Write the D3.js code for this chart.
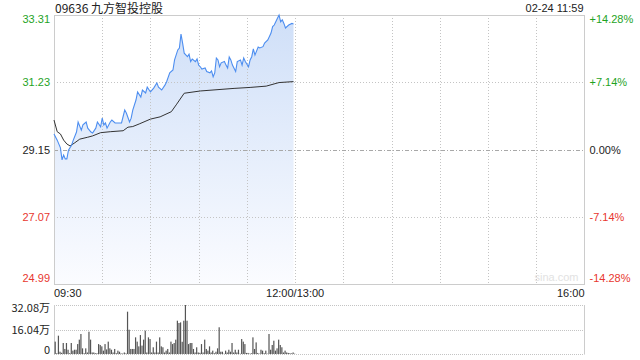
<!DOCTYPE html>
<html>
<head>
  <meta charset="utf-8">
  <title>09636 分时</title>
  <script src="https://d3js.org/d3.v7.min.js"></script>
  <style>
    body { margin: 0; background: #fff; }
    text { font-family: "Liberation Sans", Arial, sans-serif; font-size: 11px; }
    .title { font-family: "Noto Sans CJK SC", "Liberation Sans", sans-serif; font-size: 12px; fill: #222; }
    .grid line { stroke: #c4c4c4; stroke-dasharray: 1,2; }
  </style>
</head>
<body>
<script>
// 기준가(전일 종가)와 가격 눈금
var prevClose = 29.15;
var priceTicks = [33.31, 31.23, 29.15, 27.07, 24.99];
var pctLabels = ['+14.28%', '+7.14%', '0.00%', '-7.14%', '-14.28%'];
var volTicks = [32.08, 16.04, 0];
var timeTicks = [0, 150, 330];
var timeLabels = ['09:30', '12:00/13:00', '16:00'];

// 가격 (09:30부터 경과 분, 가격)
var priceMin = [0, 2, 4, 5, 6, 7, 8, 9, 11, 12, 14, 15, 17, 18, 20, 21, 23, 24, 26, 27,
  29, 30, 31, 32, 33, 35, 36, 38, 40, 42, 44, 45, 47, 48, 49, 51, 52, 54, 55, 57,
  58, 60, 62, 64, 65, 67, 69, 70, 72, 74, 75, 77, 78, 79, 80, 81, 83, 84, 85, 86,
  88, 89, 90, 91, 92, 94, 95, 97, 98, 99, 100, 101, 102, 103, 104, 106, 107, 108, 109, 110,
  111, 113, 114, 116, 117, 118, 119, 121, 122, 123, 124, 125, 127, 128, 130, 131, 133, 135, 136, 137,
  139, 140, 141, 142, 143, 144, 146, 148, 149];
var priceVal = [29.63, 29.44, 29.20, 28.83, 28.98, 28.86, 28.86, 29.13, 29.29, 29.44, 29.69, 30.00, 29.75, 29.91, 30.00, 29.81, 29.69, 29.66, 29.81, 30.00,
  29.85, 30.12, 29.91, 29.97, 29.81, 30.00, 30.06, 29.97, 29.97, 29.97, 30.37, 30.28, 30.00, 30.12, 30.37, 30.68, 30.93, 30.77, 30.99, 30.90,
  31.08, 30.93, 31.05, 31.21, 31.08, 30.99, 31.14, 31.24, 31.52, 31.61, 31.92, 32.23, 32.29, 32.72, 32.44, 32.13, 32.02, 32.10, 31.87, 31.95,
  31.87, 31.95, 31.76, 31.71, 31.64, 31.67, 31.56, 31.52, 31.58, 31.40, 31.52, 31.98, 31.92, 31.71, 31.83, 31.87, 31.76, 31.67, 32.01, 31.92,
  31.76, 31.56, 31.87, 31.92, 31.76, 31.98, 31.87, 31.71, 31.92, 32.02, 32.26, 32.07, 32.32, 32.29, 32.33, 32.44, 32.54, 32.75, 32.95, 33.00,
  33.21, 33.31, 33.10, 33.16, 33.05, 32.91, 33.00, 33.05, 33.03];

// 평균가
var avgMin = [0, 2, 4, 6, 8, 10, 13, 16, 21, 24, 29, 35, 43, 46, 49, 53, 60, 66, 73, 76, 81, 91, 112, 122, 132, 140, 149];
var avgVal = [30.06, 29.70, 29.63, 29.44, 29.32, 29.26, 29.36, 29.47, 29.53, 29.57, 29.67, 29.70, 29.73, 29.84, 29.86, 29.94, 30.09, 30.16, 30.32, 30.53, 30.89, 30.96, 31.04, 31.07, 31.11, 31.22, 31.25];

// 분당 거래량 (만주)
var volume = [8.1, 0.5, 12.0, 1.5, 0.8, 7.2, 3.3, 7.2, 2.8, 0.5, 7.2, 2.2, 2.8, 2.8, 6.5, 9.4, 13.1, 3.7, 0.5, 3.7,
  1.0, 14.6, 9.4, 1.0, 1.0, 0.5, 0.5, 6.5, 5.9, 5.0, 2.2, 6.5, 3.0, 8.1, 3.7, 2.8, 1.0, 3.3, 0.5, 2.2,
  1.5, 0.4, 0.3, 1.0, 0.4, 27.7, 15.9, 3.3, 3.3, 3.3, 10.9, 8.1, 5.0, 12.4, 5.5, 9.4, 15.3, 1.0, 10.9, 9.8,
  1.0, 4.4, 1.0, 8.1, 1.0, 10.9, 5.0, 4.4, 1.0, 2.2, 3.3, 1.0, 8.1, 6.5, 7.2, 9.4, 21.8, 20.3, 20.7, 8.0,
  21.8, 32.08, 21.8, 6.5, 7.2, 7.2, 3.3, 1.0, 4.4, 1.0, 0.8, 6.5, 1.0, 9.4, 3.3, 2.2, 5.0, 1.0, 2.2, 0.5,
  1.5, 3.7, 17.5, 1.5, 1.5, 0.2, 2.2, 1.0, 2.8, 1.5, 7.2, 1.0, 2.8, 1.0, 2.8, 0.2, 9.8, 8.1, 6.5, 0.7,
  0.7, 0.2, 0.5, 10.9, 3.3, 7.6, 0.7, 0.2, 2.8, 2.2, 0.5, 2.2, 0.2, 13.1, 2.8, 5.9, 8.7, 2.2, 3.7, 9.4,
  5.9, 4.4, 1.0, 2.2, 1.0, 0.7, 0.5, 0.4, 1.0, 0.2];

var W = 640, H = 360;
var LEFT = 54, RIGHT = 584.5, TOP = 15, BOTTOM = 284;
var VTOP = 305, VBOTTOM = 354;
var GREEN = '#1fa31f', RED = '#e8372f';

var svg = d3.select('body').append('svg').attr('width', W).attr('height', H);

var x = d3.scaleLinear().domain([0, 330]).range([LEFT, RIGHT]);
var y = d3.scaleLinear().domain([24.99, 33.31]).range([BOTTOM, TOP]);
var yv = d3.scaleLinear().domain([0, 32.08]).range([VBOTTOM, VTOP]);

function priceColor(p) {
  if (Math.abs(p - prevClose) < 0.001) return '#222';
  return p > prevClose ? GREEN : RED;
}

// 그라데이션
var grad = svg.append('defs').append('linearGradient')
  .attr('id', 'fillGrad').attr('x1', 0).attr('x2', 0)
  .attr('gradientUnits', 'userSpaceOnUse')
  .attr('y1', TOP).attr('y2', BOTTOM);
grad.append('stop').attr('offset', '0%').attr('stop-color', '#cfdff8');
grad.append('stop').attr('offset', '100%').attr('stop-color', '#fbfcff');

var pricePts = priceMin.map(function(m, i) { return [m, priceVal[i]]; });
var avgPts = avgMin.map(function(m, i) { return [m, avgVal[i]]; });

// 영역
svg.append('path').datum(pricePts)
  .attr('fill', 'url(#fillGrad)')
  .attr('d', d3.area().x(function(d) { return x(d[0]); }).y0(BOTTOM).y1(function(d) { return y(d[1]); }));

// 격자 (영역 위에)
var grid = svg.append('g').attr('class', 'grid');
grid.selectAll('.vx').data(d3.range(30, 330, 30)).enter().append('line')
  .attr('x1', function(d) { return Math.round(x(d)) + 0.5; })
  .attr('x2', function(d) { return Math.round(x(d)) + 0.5; })
  .attr('y1', TOP).attr('y2', BOTTOM);
grid.selectAll('.hy').data(priceTicks.slice(1, 4)).enter().append('line')
  .attr('x1', LEFT).attr('x2', RIGHT)
  .attr('y1', function(d) { return Math.round(y(d)) + 0.5; })
  .attr('y2', function(d) { return Math.round(y(d)) + 0.5; })
  .style('stroke', function(d) { return d === prevClose ? '#a8a8a8' : '#c4c4c4'; })
  .style('stroke-dasharray', function(d) { return d === prevClose ? '4,2,1,2' : '1,2'; });

// 거래량 격자
grid.selectAll('.vy').data(volTicks).enter().append('line')
  .attr('x1', LEFT).attr('x2', RIGHT)
  .attr('y1', function(d) { return Math.round(yv(d)) + 0.5; })
  .attr('y2', function(d) { return Math.round(yv(d)) + 0.5; })
  .style('stroke-dasharray', '1,1');

// 테두리
svg.append('rect').attr('x', LEFT + 0.5).attr('y', TOP + 0.5)
  .attr('width', RIGHT - LEFT - 0.5).attr('height', BOTTOM - TOP)
  .attr('fill', 'none').attr('stroke', '#ccc');
svg.append('line').attr('x1', LEFT + 0.5).attr('x2', LEFT + 0.5).attr('y1', VTOP).attr('y2', VBOTTOM).attr('stroke', '#ccc');
svg.append('line').attr('x1', RIGHT).attr('x2', RIGHT).attr('y1', VTOP).attr('y2', VBOTTOM).attr('stroke', '#ccc');

// 워터마크
svg.append('text').attr('x', RIGHT - 6).attr('y', BOTTOM - 3).attr('text-anchor', 'end')
  .style('fill', '#e2e2e2').style('font-size', '11px').text('sina.com');

// 평균가 선
svg.append('path').datum(avgPts)
  .attr('fill', 'none').attr('stroke', '#333').attr('stroke-width', 1)
  .attr('d', d3.line().x(function(d) { return x(d[0]); }).y(function(d) { return y(d[1]); }));

// 가격 선
svg.append('path').datum(pricePts)
  .attr('fill', 'none').attr('stroke', '#4d8ef0').attr('stroke-width', 1.1)
  .attr('d', d3.line().x(function(d) { return x(d[0]); }).y(function(d) { return y(d[1]); }));

// 거래량 막대
svg.append('g').selectAll('rect').data(volume).enter().append('rect')
  .attr('x', function(d, i) { return x(i) + 0.6; })
  .attr('width', 1.2)
  .attr('y', function(d) { return yv(d); })
  .attr('height', function(d) { return VBOTTOM - yv(d); })
  .attr('fill', '#555');

// 가격 라벨
var n = priceTicks.length;
function labelY(d, i) {
  var yy = y(d) + 4;
  if (i === 0) yy += 4;
  if (i === n - 1) yy -= 6;
  return yy;
}
svg.append('g').selectAll('text').data(priceTicks).enter().append('text')
  .attr('x', LEFT - 4).attr('y', labelY).attr('text-anchor', 'end')
  .style('fill', priceColor).text(function(d) { return d.toFixed(2); });
svg.append('g').selectAll('text').data(priceTicks).enter().append('text')
  .attr('x', RIGHT + 5).attr('y', labelY)
  .style('fill', priceColor)
  .text(function(d, i) { return pctLabels[i]; });

// 시간 라벨
svg.append('g').selectAll('text').data(timeTicks).enter().append('text')
  .attr('x', function(d) { return x(d); }).attr('y', BOTTOM + 13)
  .attr('text-anchor', function(d, i) { return i === 0 ? 'start' : (i === timeTicks.length - 1 ? 'end' : 'middle'); })
  .style('fill', '#222')
  .text(function(d, i) { return timeLabels[i]; });

// 거래량 라벨
svg.append('g').selectAll('text').data(volTicks).enter().append('text')
  .attr('x', LEFT - 4)
  .attr('y', function(d, i) { return yv(d) + 4 + (i === 0 ? 3 : 0) + (i === 2 ? -4 : 0); })
  .attr('text-anchor', 'end')
  .style('fill', '#222')
  .style('font-family', '"Noto Sans CJK SC", "Liberation Sans", sans-serif')
  .text(function(d) { return d === 0 ? '0' : d.toFixed(2) + '万'; });

// 제목
svg.append('text').attr('class', 'title').attr('x', LEFT + 1).attr('y', 13).text('09636 九方智投控股');
svg.append('text').attr('x', RIGHT - 1).attr('y', 12).attr('text-anchor', 'end')
  .style('fill', '#222').text('02-24 11:59');
</script>
</body>
</html>
